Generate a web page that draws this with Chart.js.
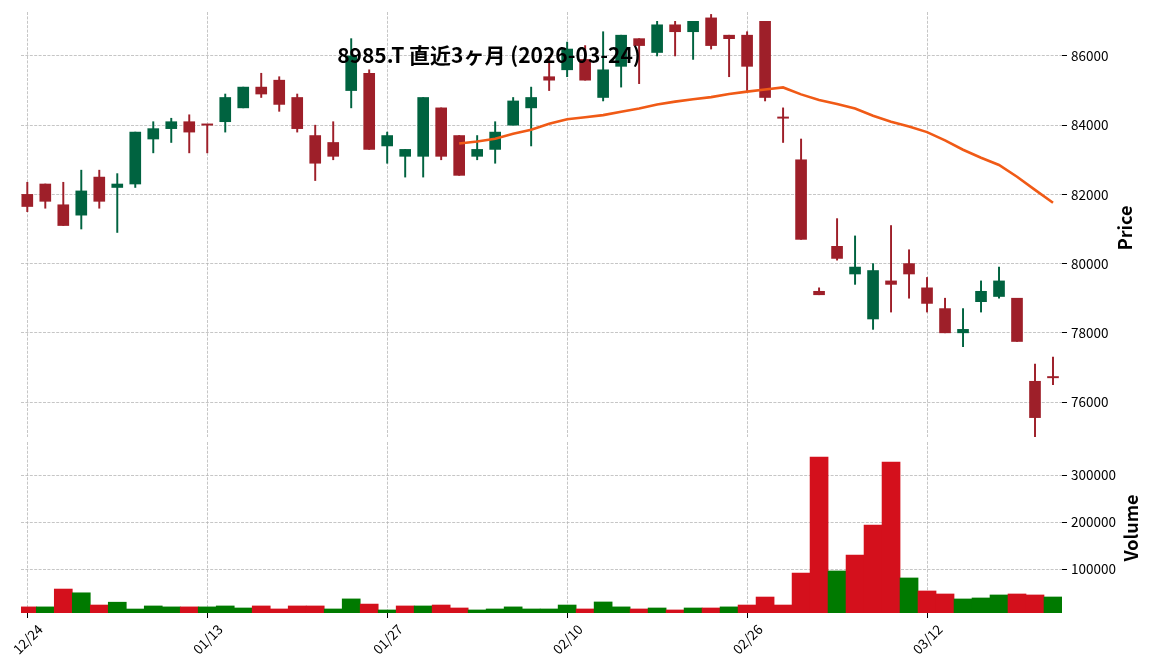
<!DOCTYPE html>
<html>
<head>
<meta charset="utf-8">
<script src="https://cdn.jsdelivr.net/npm/chart.js@4.4.1/dist/chart.umd.min.js"></script>
<style>
  html, body { margin: 0; padding: 0; background: #fff; }
  #wrap { position: relative; width: 1152px; height: 670px; }
  #price { position: absolute; left: 0; top: 0; }
  #vol { position: absolute; left: 0; top: 440px; }
</style>
</head>
<body>
<div id="wrap">
  <canvas id="price" width="1152" height="440"></canvas>
  <canvas id="vol" width="1152" height="230"></canvas>
</div>
<script>
// 8985.T daily candles, last 3 months (TSE trading days)
const dates = ["12/24","12/25","12/26","12/29","12/30","01/05","01/06","01/07","01/08","01/09",
  "01/13","01/14","01/15","01/16","01/19","01/20","01/21","01/22","01/23","01/26",
  "01/27","01/28","01/29","01/30","02/02","02/03","02/04","02/05","02/06","02/09",
  "02/10","02/12","02/13","02/16","02/17","02/18","02/19","02/20","02/24","02/25",
  "02/26","02/27","03/02","03/03","03/04","03/05","03/06","03/09","03/10","03/11",
  "03/12","03/13","03/16","03/17","03/18","03/19","03/23","03/24"];

const opens = [82000, 82300, 81700, 81400, 82500, 82200, 82300, 83600, 83900, 84100,
  84000, 84100, 84500, 85100, 85300, 84800, 83700, 83500, 85000, 85500,
  83400, 83100, 83100, 84500, 83700, 83100, 83300, 84000, 84500, 85400,
  85600, 85900, 84800, 85700, 86500, 86100, 86900, 86700, 87100, 86600,
  86600, 87000, 84200, 83000, 79200, 80500, 79700, 78400, 79500, 80000,
  79300, 78700, 78000, 78900, 79050, 79000, 76600, 76700];
const highs = [82350, 82300, 82350, 82700, 82700, 82600, 83800, 84100, 84200, 84300,
  84000, 84900, 85100, 85500, 85400, 84900, 84000, 84100, 86500, 85600,
  83800, 83300, 84800, 84500, 83700, 83700, 84100, 84800, 85100, 86000,
  86400, 86300, 86700, 86600, 86500, 87000, 87000, 87000, 87200, 86600,
  86700, 87000, 84500, 83600, 79300, 81300, 80800, 80000, 81100, 80400,
  79600, 79000, 78700, 79500, 79900, 79000, 77100, 77300];
const lows = [81500, 81600, 81100, 81000, 81600, 80900, 82200, 83200, 83500, 83200,
  83200, 83800, 84500, 84800, 84400, 83800, 82400, 83000, 84500, 83300,
  82900, 82500, 82500, 83000, 82550, 83000, 82900, 84000, 83400, 85000,
  85400, 85300, 84700, 85100, 85200, 86000, 86000, 85900, 86200, 85400,
  85000, 84700, 83500, 80700, 79100, 80100, 79400, 78100, 78600, 79000,
  78600, 78000, 77600, 78600, 79000, 77750, 75000, 76500];
const closes = [81650, 81800, 81100, 82100, 81800, 82300, 83800, 83900, 84100, 83800,
  84000, 84800, 85100, 84900, 84600, 83900, 82900, 83100, 86000, 83300,
  83700, 83300, 84800, 83100, 82550, 83300, 83800, 84700, 84800, 85300,
  86200, 85300, 85600, 86600, 86300, 86900, 86700, 87000, 86300, 86500,
  85700, 84800, 84200, 80700, 79100, 80150, 79900, 79800, 79400, 79700,
  78850, 78000, 78100, 79200, 79500, 77750, 75550, 76700];
const volumes = [20000, 20000, 58000, 50000, 24000, 30000, 15500, 22000, 20000, 20000,
  20000, 22000, 17700, 22000, 15600, 22000, 22000, 15600, 37000, 26000,
  13500, 22000, 22000, 24000, 17700, 13500, 15600, 20000, 15600, 15600,
  24000, 15600, 30500, 20000, 15600, 17700, 13500, 17700, 17700, 20000,
  24000, 41000, 24000, 92000, 339000, 96500, 130500, 194300, 328400, 81600,
  53900, 47500, 36900, 39000, 45400, 47500, 45400, 41100];

// 25-day moving average, first value at index 24
const maStart = 24;
const ma25 = [83470, 83530, 83610, 83750, 83870, 84040, 84170, 84230, 84290, 84390,
  84480, 84600, 84680, 84750, 84810, 84900, 84970, 85030, 85090, 84890,
  84730, 84610, 84480, 84270, 84100, 83960, 83800, 83560, 83290, 83060,
  82850, 82510, 82130, 81760];

const tickIdx = [0, 10, 20, 30, 40, 50];
const priceTicks = [76000, 78000, 80000, 82000, 84000, 86000];
const volTicks = [100000, 200000, 300000];
const titleText = "8985.T 直近3ヶ月 (2026-03-24)";

const UP = "#006340", DOWN = "#9e1f29";
const VUP = "#007a00", VDOWN = "#d4101c";
const GRID = "#b8b8b8";
const FONT = "'Noto Sans CJK JP', 'Noto Sans', sans-serif";

Chart.defaults.font.family = FONT;
Chart.defaults.color = "#000";

const candleCol = opens.map((o, i) => closes[i] > o ? UP : DOWN);
const volCol = closes.map((c, i) => {
  if (i === 0) return opens[0] < c ? VUP : VDOWN;
  return c > closes[i - 1] ? VUP : VDOWN;
});

const xBase = {
  type: "linear",
  min: -0.35,
  max: 57.5,
  offset: false,
  afterBuildTicks: s => { s.ticks = tickIdx.map(v => ({ value: v })); },
  border: { display: false, dash: [3, 1.4] }
};

// right axis: fixed width, no extra label padding above/below the plot
const fixRight = s => {
  s.width = 90;
  s.paddingTop = 0;
  s.paddingBottom = 0;
};

function labelPlugin(items) {
  return {
    id: "labels",
    afterDraw(chart) {
      const ctx = chart.ctx;
      ctx.save();
      ctx.fillStyle = "#000";
      items.forEach(t => {
        ctx.save();
        ctx.font = "bold " + t.size + "px " + FONT;
        ctx.translate(t.x, t.y);
        ctx.rotate(t.rot || 0);
        ctx.textAlign = "center";
        ctx.textBaseline = "middle";
        ctx.fillText(t.text, 0, 0);
        ctx.restore();
      });
      ctx.restore();
    }
  };
}

// Price panel
new Chart(document.getElementById("price"), {
  type: "bar",
  data: {
    datasets: [
      {
        type: "line",
        data: ma25.map((v, k) => ({ x: maStart + k, y: v })),
        borderColor: "#f05a16",
        borderWidth: 2.6,
        pointRadius: 0,
        tension: 0
      },
      {
        data: opens.map((o, i) => ({ x: i, y: [o, closes[i]] })),
        backgroundColor: candleCol,
        barThickness: 11,
        minBarLength: 1.3,
        grouped: false
      },
      {
        data: lows.map((l, i) => ({ x: i, y: [l, highs[i]] })),
        backgroundColor: candleCol,
        barThickness: 1.3,
        grouped: false
      }
    ]
  },
  options: {
    responsive: false,
    animation: false,
    layout: { autoPadding: false, padding: { left: 21, top: 12, right: 0, bottom: 3 } },
    plugins: { legend: { display: false }, tooltip: { enabled: false } },
    scales: {
      x: Object.assign({}, xBase, {
        ticks: { display: false },
        grid: { color: GRID, lineWidth: 0.8, drawTicks: false, offset: false },
        afterFit: s => { s.height = 0; s.paddingLeft = 0; s.paddingRight = 0; }
      }),
      y: {
        position: "right",
        min: 74990,
        max: 87270,
        afterBuildTicks: s => { s.ticks = priceTicks.map(v => ({ value: v })); },
        ticks: { font: { size: 13.5 }, padding: 4, callback: v => String(v) },
        grid: { color: GRID, lineWidth: 0.8, tickColor: "#000", tickLength: 5, tickWidth: 1 },
        border: { display: false, dash: [3, 1.4] },
        afterFit: fixRight
      }
    }
  },
  plugins: [labelPlugin([
    { text: titleText, x: 489, y: 55, size: 21 },
    { text: "Price", x: 1125, y: 228, size: 18, rot: -Math.PI / 2 }
  ])]
});

// Volume panel
new Chart(document.getElementById("vol"), {
  type: "bar",
  data: {
    datasets: [{
      data: volumes.map((v, i) => ({ x: i, y: v })),
      backgroundColor: volCol,
      barThickness: 18,
      grouped: false
    }]
  },
  options: {
    responsive: false,
    animation: false,
    layout: { autoPadding: false, padding: { left: 21, top: 2, right: 0, bottom: 0 } },
    plugins: { legend: { display: false }, tooltip: { enabled: false } },
    scales: {
      x: Object.assign({}, xBase, {
        ticks: {
          font: { size: 13.5 },
          minRotation: 45,
          maxRotation: 45,
          labelOffset: 13,
          padding: 3,
          callback: v => dates[v]
        },
        grid: { color: GRID, lineWidth: 0.8, tickColor: "#000", tickLength: 5, tickWidth: 1, offset: false },
        afterFit: s => { s.height = 57; s.paddingLeft = 0; s.paddingRight = 0; }
      }),
      y: {
        position: "right",
        min: 7000,
        max: 371000,
        afterBuildTicks: s => { s.ticks = volTicks.map(v => ({ value: v })); },
        ticks: { font: { size: 13.5 }, padding: 4, callback: v => String(v) },
        grid: { color: GRID, lineWidth: 0.8, tickColor: "#000", tickLength: 5, tickWidth: 1 },
        border: { display: false, dash: [3, 1.4] },
        afterFit: fixRight
      }
    }
  },
  plugins: [labelPlugin([
    { text: "Volume", x: 1131, y: 88, size: 18, rot: -Math.PI / 2 }
  ])]
});
</script>
</body>
</html>
